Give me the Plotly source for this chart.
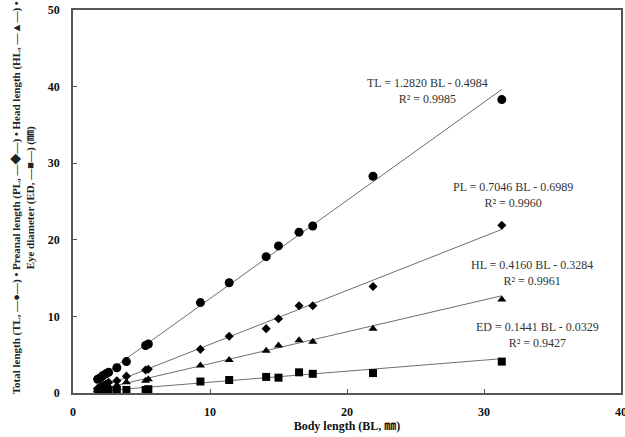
import plotly.graph_objects as go

# Body length (mm)
BL = [1.8, 2.0, 2.2, 2.4, 2.6, 3.2, 3.9, 5.3, 5.5, 9.3, 11.4, 14.1, 15.0, 16.5, 17.5, 21.9, 31.3]
TL = [1.8, 2.0, 2.3, 2.5, 2.7, 3.3, 4.1, 6.2, 6.4, 11.8, 14.4, 17.8, 19.2, 21.0, 21.8, 28.3, 38.3]
PL = [0.6, 0.8, 1.0, 1.2, 1.4, 1.6, 2.2, 3.0, 3.1, 5.7, 7.4, 8.4, 9.7, 11.4, 11.4, 13.9, 21.9]
HL = [0.4, 0.5, 0.6, 0.8, 0.9, 1.0, 1.4, 1.6, 1.8, 3.6, 4.3, 5.5, 6.2, 6.9, 6.7, 8.4, 12.2]
ED = [0.2, 0.2, 0.3, 0.3, 0.3, 0.4, 0.4, 0.4, 0.5, 1.5, 1.7, 2.1, 2.0, 2.7, 2.5, 2.6, 4.1]

series_names = ["TL", "PL", "HL", "ED"]
slopes = [1.2820, 0.7046, 0.4160, 0.1441]
intercepts = [-0.4984, -0.6989, -0.3284, -0.0329]
r2 = ["0.9985", "0.9960", "0.9961", "0.9427"]
label_pos = [(25.9, 39.4), (32.1, 25.9), (33.5, 15.7), (33.9, 7.6)]

x_ticks = [0, 10, 20, 30, 40]
y_ticks = [0, 10, 20, 30, 40, 50]

symbols = ["circle", "diamond", "triangle-up", "square"]
sizes = [9, 7, 8, 8]
values = [TL, PL, HL, ED]

SERIF = "Liberation Serif, Times New Roman, Noto Sans CJK JP, serif"

fig = go.Figure()
xmin, xmax = min(BL), max(BL)
for name, a, b in zip(series_names, slopes, intercepts):
    fig.add_trace(go.Scatter(
        x=[xmin, xmax], y=[a * xmin + b, a * xmax + b], mode="lines",
        line=dict(color="#6e6e6e", width=1), showlegend=False, hoverinfo="skip"))

for name, vals, sym, sz in zip(series_names, values, symbols, sizes):
    fig.add_trace(go.Scatter(
        x=BL, y=vals, mode="markers", name=name,
        marker=dict(symbol=sym, size=sz, color="black"), showlegend=False))

for name, a, b, r, (lx, ly) in zip(series_names, slopes, intercepts, r2, label_pos):
    fig.add_annotation(
        x=lx, y=ly, xref="x", yref="y", showarrow=False,
        text=f"{name} = {a:.4f} BL - {abs(b):.4f}<br>R² = {r}",
        font=dict(family=SERIF, size=12, color="#333333"), align="center")

fig.add_annotation(
    xref="paper", yref="paper", x=-0.09, y=0.51, textangle=-90,
    showarrow=False, align="center", xanchor="center", yanchor="middle",
    text="Total length (TL, —●—) • Preanal length (PL, —◆—) • Head length (HL, —▲—) •<br>Eye diameter (ED, —■—) (㎜)",
    font=dict(family=SERIF, size=11, color="#222222", weight="bold"))

fig.update_layout(
    width=625, height=437,
    margin=dict(l=73, r=4, t=10, b=44),
    plot_bgcolor="white", paper_bgcolor="white",
    xaxis=dict(range=[0, 40], tickvals=x_ticks, ticks="inside", ticklen=4,
               automargin=False, ticklabeloverflow="allow", ticklabelstandoff=7,
               showgrid=False, zeroline=False, showline=True, mirror=True,
               linecolor="#555555", linewidth=1.5, tickcolor="#555555",
               tickfont=dict(family=SERIF, size=12, color="#111111", weight="bold"),
               title=dict(text="Body length (BL, ㎜)", standoff=3,
                          font=dict(family=SERIF, size=12, color="#111111", weight="bold"))),
    yaxis=dict(range=[0, 50], tickvals=y_ticks, ticks="inside", ticklen=4,
               automargin=False, ticklabeloverflow="allow",
               showgrid=False, zeroline=False, showline=True, mirror=True,
               linecolor="#555555", linewidth=1.5, tickcolor="#555555",
               ticklabelstandoff=9,
               tickfont=dict(family=SERIF, size=12, color="#111111", weight="bold")),
)

fig.write_html("out.html", config={"displayModeBar": False},
               post_script="document.body.style.margin='0';document.body.style.overflow='hidden';")
